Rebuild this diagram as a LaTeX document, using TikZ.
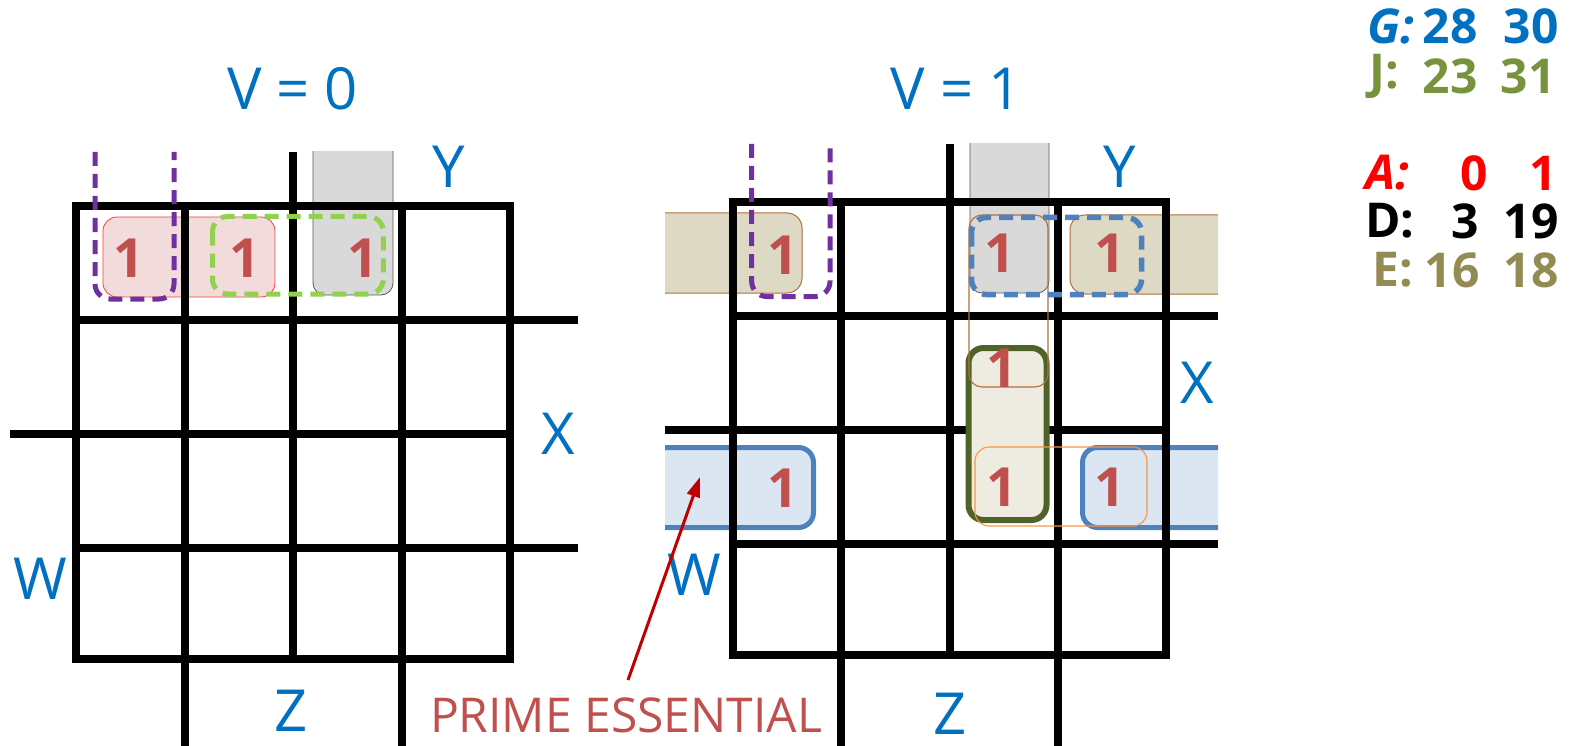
\documentclass[tikz,border=0pt]{standalone}
\usepackage{fontspec}
\setmainfont{Open Sans}
\usetikzlibrary{arrows.meta}
\definecolor{lblblue}{HTML}{0070C0}
\definecolor{onered}{HTML}{C0504D}
\definecolor{pinkfill}{HTML}{F2DCDB}
\definecolor{pinkline}{HTML}{FF3B3B}
\definecolor{grayfill}{HTML}{D9D9D9}
\definecolor{grayline}{HTML}{595959}
\definecolor{purp}{HTML}{7030A0}
\definecolor{lgreen}{HTML}{92D050}
\definecolor{tanfill}{HTML}{DDD9C4}
\definecolor{brownline}{HTML}{B0703A}
\definecolor{bluefill}{HTML}{DCE6F2}
\definecolor{blueline}{HTML}{4F81BD}
\definecolor{dgreen}{HTML}{4F6228}
\definecolor{dgreenfill}{HTML}{EEECE1}
\definecolor{orangeline}{HTML}{F79646}
\definecolor{arrowred}{HTML}{C00000}
\definecolor{legJ}{HTML}{77933C}
\definecolor{legA}{HTML}{FF0000}
\definecolor{legE}{HTML}{948A54}
\begin{document}
\begin{tikzpicture}[x=1pt,y=-1pt,
  gridline/.style={line width=8pt, draw=black},
  onelbl/.style={text=onered, font=\bfseries\fontsize{54}{58}\selectfont, inner sep=0pt},
  axislbl/.style={text=lblblue, font=\fontsize{58}{62}\selectfont, inner sep=0pt},
  leg/.style={font=\bfseries\fontsize{48}{52}\selectfont, inner sep=0pt},
  dashgrp/.style={line width=5pt, dash pattern=on 14pt off 8pt, rounded corners=15pt},
  band/.style={rounded corners=15pt},
]
\useasboundingbox (0,0) rectangle (1571,746);

% ================= LEFT MAP (V = 0) =================
\draw[fill=pinkfill, draw=pinkline, line width=0.8pt, rounded corners=14pt] (103,217) rectangle (275,297);
\begin{scope}
  \clip (0,152) rectangle (600,746);
  \draw[fill=grayfill, draw=grayline, line width=0.8pt, rounded corners=12pt] (313,120) rectangle (393,295);
\end{scope}
% grid
\draw[gridline] (76,206) rectangle (510,659);
\draw[gridline] (184.5,206) -- (184.5,746);
\draw[gridline] (293,152) -- (293,659);
\draw[gridline] (401.5,206) -- (401.5,746);
\draw[gridline] (76,320) -- (578,320);
\draw[gridline] (9.6,434) -- (510,434);
\draw[gridline] (76,548) -- (578,548);
% dashed groups
\draw[dashgrp, draw=purp] (95,152) -- (95,299) -- (174,299) -- (174,152);
\draw[dashgrp, draw=lgreen] (212.5,216.5) rectangle (383.3,294);
% ones
\node[onelbl] (l00) at (129,258) {1};
\node[onelbl] (l01) at (245,258) {1};
\node[onelbl] (l02) at (363,258) {1};
% labels
\node[axislbl] (v0) at (292.5,89) {V = 0};
\node[axislbl] (ly) at (449,167) {Y};
\node[axislbl] (lx) at (558,434) {X};
\node[axislbl] (lw) at (40,579) {W};
\node[axislbl] (lz) at (291,711) {Z};

% ================= RIGHT MAP (V = 1) =================
\begin{scope}
  \clip (665,144) rectangle (1218,746);
  \draw[fill=tanfill, draw=brownline, line width=1pt, band] (630,213) rectangle (802,293);
  \draw[fill=tanfill, draw=brownline, line width=1pt, band] (1070,215) rectangle (1250,294);
  \draw[fill=grayfill, draw=grayline, line width=0.8pt, rounded corners=12pt] (970,110) rectangle (1049,293);
  \draw[fill=bluefill, draw=blueline, line width=5pt, band] (630,447.5) rectangle (813.5,527.5);
  \draw[fill=bluefill, draw=blueline, line width=5pt, band] (1082.5,447.5) rectangle (1250,527.5);
\end{scope}
% grid
\draw[gridline] (732.5,202) rectangle (1166,655);
\draw[gridline] (841,202) -- (841,746);
\draw[gridline] (949.5,144) -- (949.5,655);
\draw[gridline] (1058,202) -- (1058,746);
\draw[gridline] (732.5,316) -- (1218,316);
\draw[gridline] (665,430) -- (1166,430);
\draw[gridline] (732.5,544) -- (1218,544);
% dark green group (J)
\draw[fill=dgreenfill, draw=dgreen, line width=6pt, rounded corners=15pt] (968.5,348) rectangle (1046.5,520);
% thin outlines
\draw[draw=brownline, line width=1.1pt, rounded corners=13pt] (969,215) rectangle (1048,387);
\draw[draw=orangeline, line width=1.1pt, rounded corners=14pt] (975,447) rectangle (1147,526);
% dashed groups
\draw[dashgrp, draw=blueline, line width=5.5pt] (971.5,217.5) rectangle (1141.5,294.5);
\draw[dashgrp, draw=purp] (751.7,144) -- (751.7,296.5) -- (830,296.5) -- (830,144);
% ones
\node[onelbl] (r00) at (783,255) {1};
\node[onelbl] (r02) at (1000,253) {1};
\node[onelbl] (r03) at (1110,253) {1};
\node[onelbl] (r12) at (1002,368) {1};
\node[onelbl] (r20) at (783,488) {1};
\node[onelbl] (r22) at (1002,487) {1};
\node[onelbl] (r23) at (1110,487) {1};
% labels
\node[axislbl] (v1) at (956,89) {V = 1};
\node[axislbl] (ry) at (1120,167) {Y};
\node[axislbl] (rx) at (1197,383) {X};
\node[axislbl] (rw) at (694,575) {W};
\node[axislbl] (rz) at (950,714) {Z};

% ================= PRIME ESSENTIAL =================
\node[text=onered, font=\fontsize{48}{52}\selectfont, inner sep=0pt] (pe) at (626,715) {PRIME ESSENTIAL};
\coordinate (petail) at (628,680);
\coordinate (pehead) at (700,477);
\draw[draw=arrowred, line width=3pt, -{Triangle[length=20pt,width=13pt]}] (petail) -- (pehead);

% ================= LEGEND =================
\node[leg, text=lblblue, anchor=west] (gk) at (1367,26) {\itshape G:};
\node[leg, text=lblblue] (g1) at (1450,26) {28};
\node[leg, text=lblblue] (g2) at (1531,26) {30};
\node[leg, text=legJ, anchor=west] (jk) at (1369,76) {J:};
\node[leg, text=legJ] (j1) at (1450,76) {23};
\node[leg, text=legJ] (j2) at (1528,76) {31};
\node[leg, text=legA, anchor=west] (ak) at (1365,173) {\itshape A:};
\node[leg, text=legA] (a1) at (1474,173) {0};
\node[leg, text=legA] (a2) at (1543,173) {1};
\node[leg, text=black, anchor=west] (dk) at (1365,221) {D:};
\node[leg, text=black] (d1) at (1465,221) {3};
\node[leg, text=black] (d2) at (1531,221) {19};
\node[leg, text=legE, anchor=west] (ek) at (1372,270) {E:};
\node[leg, text=legE] (e1) at (1452,270) {16};
\node[leg, text=legE] (e2) at (1531,270) {18};
\end{tikzpicture}
\end{document}
